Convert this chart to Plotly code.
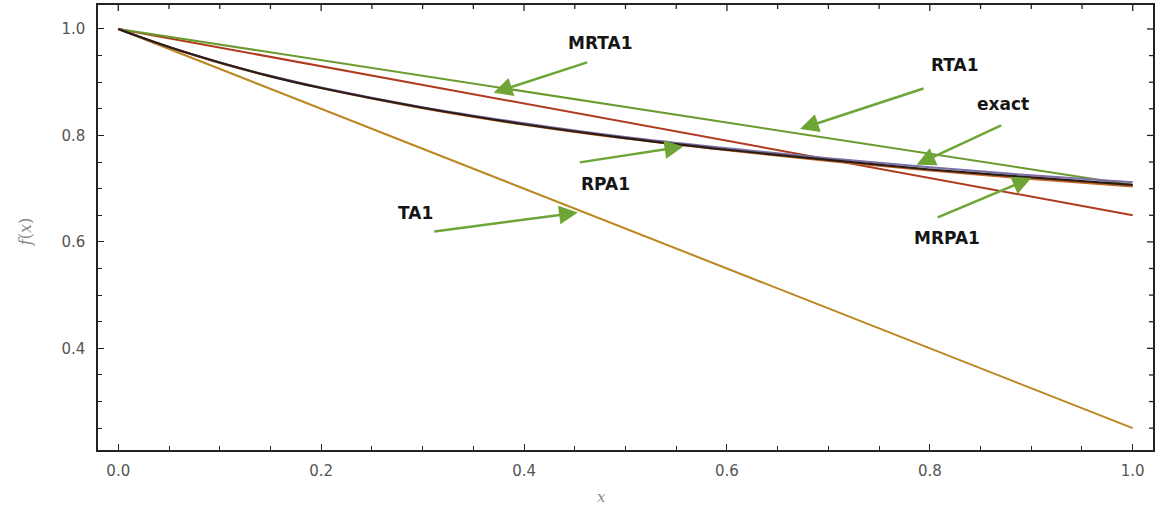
import plotly.graph_objects as go

# ---- data ----
x_line = [0.0, 1.0]
TA1 = [1.0, 0.25]
RTA1 = [1.0, 0.65]
MRTA1 = [1.0, 0.707]

x_curve = [0, 0.05, 0.1, 0.15, 0.2, 0.3, 0.4, 0.5, 0.6, 0.7, 0.8, 0.9, 1.0]
exact = [1.0, 0.966, 0.937, 0.911, 0.889, 0.852, 0.821, 0.795, 0.773, 0.754, 0.736, 0.721, 0.707]
MRPA1 = [1.0, 0.966, 0.937, 0.912, 0.890, 0.853, 0.823, 0.797, 0.776, 0.757, 0.740, 0.725, 0.712]
RPA1 = [1.0, 0.966, 0.936, 0.911, 0.889, 0.851, 0.820, 0.794, 0.772, 0.752, 0.734, 0.718, 0.704]

# label, tip x, tip y, tail offset (px), text x, text y
labels = ["MRTA1", "RTA1", "exact", "RPA1", "TA1", "MRPA1"]
tip_x = [0.370, 0.672, 0.787, 0.557, 0.453, 0.900]
tip_y = [0.880, 0.812, 0.745, 0.779, 0.655, 0.720]
tail_dx = [95, 125, 86, -105, -145, -95]
tail_dy = [-31, -41, -40, 16, 19, 40]
text_x = [0.475, 0.825, 0.872, 0.480, 0.293, 0.817]
text_y = [0.974, 0.932, 0.859, 0.709, 0.654, 0.607]

x_ticks = [0.0, 0.2, 0.4, 0.6, 0.8, 1.0]
y_ticks = [0.4, 0.6, 0.8, 1.0]
x_minor = [round(0.05 * i, 2) for i in range(21) if i % 4 != 0]
y_minor = [round(0.05 * i, 2) for i in range(5, 21) if i % 4 != 0]
x_range = [-0.02, 1.02]
y_range = [0.209, 1.045]

fig = go.Figure()
fig.add_trace(go.Scatter(x=x_line, y=TA1, mode="lines", line=dict(color="#bb8620", width=2), name="TA1"))
fig.add_trace(go.Scatter(x=x_line, y=RTA1, mode="lines", line=dict(color="#b03a1e", width=2), name="RTA1"))
fig.add_trace(go.Scatter(x=x_line, y=MRTA1, mode="lines", line=dict(color="#6b9b2f", width=2), name="MRTA1"))
fig.add_trace(go.Scatter(x=x_curve, y=RPA1, mode="lines", line=dict(color="#c8662a", width=2, shape="spline"), name="RPA1"))
fig.add_trace(go.Scatter(x=x_curve, y=MRPA1, mode="lines", line=dict(color="#7b6fa8", width=2, shape="spline"), name="MRPA1"))
fig.add_trace(go.Scatter(x=x_curve, y=exact, mode="lines", line=dict(color="#2b1d14", width=2.2, shape="spline"), name="exact"))

for lab, tx, ty, dx, dy, lx, ly in zip(labels, tip_x, tip_y, tail_dx, tail_dy, text_x, text_y):
    fig.add_annotation(x=tx, y=ty, ax=dx, ay=dy, text="", showarrow=True,
                       arrowhead=2, arrowsize=1.5, arrowwidth=2.5, arrowcolor="#6fa536")
    fig.add_annotation(x=lx, y=ly, text=lab, showarrow=False,
                       font=dict(family="DejaVu Sans", size=17, color="#151515", weight="bold"))

fig.add_annotation(xref="paper", yref="paper", x=0.477, y=-0.105, text="<i>x</i>", showarrow=False,
                   font=dict(family="DejaVu Serif", size=15, color="#888888"), yanchor="middle")
fig.add_annotation(xref="paper", yref="paper", x=-0.068, y=0.49, text="<i>f</i>(<i>x</i>)", showarrow=False,
                   textangle=-90, font=dict(family="DejaVu Serif", size=16, color="#888888"), xanchor="center")

# mirrored tick marks on the top and right frame edges
PLOT_W, PLOT_H = 1156 - 98 - 3, 510 - 5 - 60
tick_line = dict(color="#222222", width=1.3)
for xv in x_ticks + x_minor:
    ln = 6 if xv in x_ticks else 4
    fig.add_shape(type="line", xref="x", yref="paper", x0=xv, x1=xv, y0=1, y1=1 - ln / PLOT_H, line=tick_line)
for yv in y_ticks + y_minor:
    ln = 6 if yv in y_ticks else 4
    fig.add_shape(type="line", xref="paper", yref="y", x0=1, x1=1 - ln / PLOT_W, y0=yv, y1=yv, line=tick_line)

axis_common = dict(showline=True, linecolor="#222222", linewidth=1.5, mirror=True,
                   ticks="inside", ticklen=6, tickwidth=1.3, tickcolor="#222222",
                   showgrid=False, zeroline=False, automargin=False,
                   tickfont=dict(family="DejaVu Sans", size=15, color="#555555"),
                   minor=dict(ticks="inside", ticklen=4, tickwidth=1.2, tickcolor="#222222", dtick=0.05, showgrid=False))

fig.update_layout(
    xaxis=dict(range=x_range, tickvals=x_ticks, ticktext=["0.0", "0.2", "0.4", "0.6", "0.8", "1.0"],
               ticklabelstandoff=6, **axis_common),
    yaxis=dict(range=y_range, tickvals=y_ticks, ticktext=["0.4", "0.6", "0.8", "1.0"],
               ticklabelstandoff=8, **axis_common),
)

fig.update_layout(width=1156, height=510, margin=dict(l=98, r=3, t=5, b=60, autoexpand=False),
                  plot_bgcolor="white", paper_bgcolor="white", showlegend=False)

fig.write_html("out.html", config={"displayModeBar": False},
               post_script="document.body.style.margin='0';")
